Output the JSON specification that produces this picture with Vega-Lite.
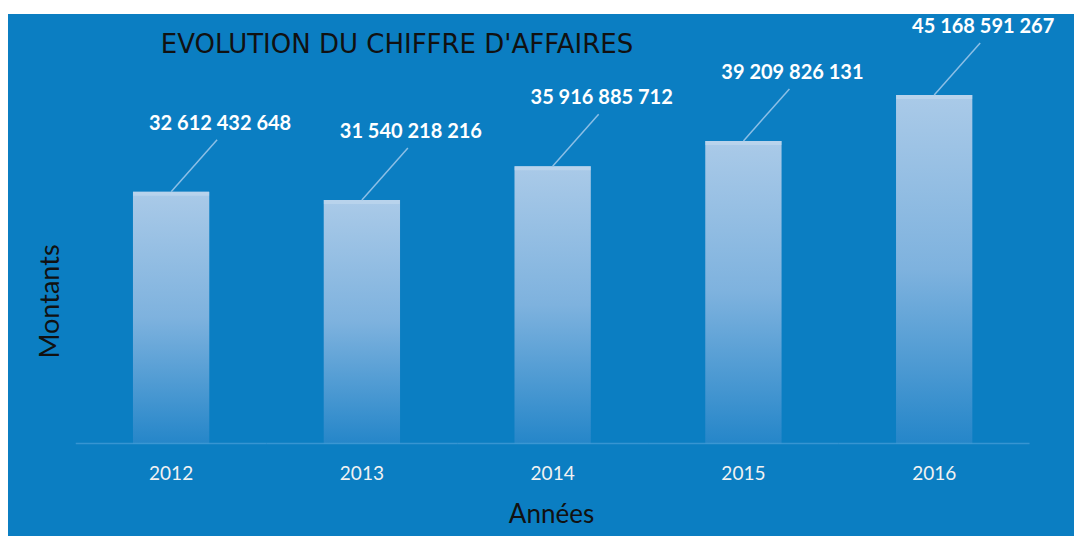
{
  "$schema": "https://vega.github.io/schema/vega-lite/v6.json",
  "width": 1066,
  "height": 522,
  "autosize": {"type": "none"},
  "padding": {"left": 8, "top": 14, "right": 0, "bottom": 0},
  "background": "#ffffff",
  "config": {
    "view": {"fill": "#0b7ec2", "stroke": null},
    "locale": {"number": {"decimal": ",", "thousands": " ", "grouping": [3], "currency": ["", " €"]}}
  },
  "title": {
    "text": "EVOLUTION DU CHIFFRE D'AFFAIRES",
    "font": "DejaVu Sans",
    "fontSize": 26,
    "fontWeight": "normal",
    "color": "#111111",
    "anchor": "middle",
    "dx": -144,
    "offset": -65,
    "baseline": "alphabetic"
  },
  "data": {
    "values": [
      {"year": "2012", "value": 32612432648},
      {"year": "2013", "value": 31540218216},
      {"year": "2014", "value": 35916885712},
      {"year": "2015", "value": 39209826131},
      {"year": "2016", "value": 45168591267}
    ]
  },
  "encoding": {
    "x": {
      "field": "year",
      "type": "ordinal",
      "title": "Années",
      "scale": {"paddingInner": 0.6, "paddingOuter": 0.594, "align": 0.5514},
      "axis": {
        "orient": "bottom",
        "offset": -92.5,
        "domain": false,
        "ticks": false,
        "tickSize": 0,
        "grid": false,
        "labelPadding": 21,
        "labelFont": "Lato",
        "labelFontSize": 19,
        "labelColor": "#f2f2f2",
        "labelAngle": 0,
        "titleFont": "Lato",
        "titleFontSize": 26,
        "titleFontWeight": "normal",
        "titleColor": "#111111",
        "titleX": 543,
        "titleY": 78.5,
        "titleBaseline": "alphabetic"
      }
    },
    "y": {
      "field": "value",
      "type": "quantitative",
      "title": "Montants",
      "scale": {"domain": [-11990000000, 55660000000], "nice": false, "zero": false},
      "axis": {
        "orient": "left",
        "domain": false,
        "ticks": false,
        "labels": false,
        "grid": false,
        "titleFont": "Lato",
        "titleFontSize": 27,
        "titleFontWeight": "normal",
        "titleColor": "#111111",
        "titleAngle": -90,
        "titleX": 50,
        "titleY": 287,
        "titleBaseline": "alphabetic"
      }
    }
  },
  "layer": [
    {
      "mark": {
        "type": "bar",
        "color": {
          "gradient": "linear",
          "x1": 0, "y1": 0, "x2": 0, "y2": 1,
          "stops": [
            {"offset": 0, "color": "#aacae8"},
            {"offset": 0.5, "color": "#7eb2de"},
            {"offset": 1, "color": "#2586c9"}
          ]
        }
      },
      "encoding": {"y2": {"datum": 0}}
    },
    {
      "mark": {"type": "tick", "size": 76, "thickness": 4, "yOffset": 2, "color": "#bfd7ee"}
    },
    {
      "mark": {"type": "tick", "size": 190.75, "thickness": 1.5, "color": "#4a9fd8"},
      "encoding": {"y": {"datum": 0}}
    },
    {
      "mark": {"type": "rule", "color": "#8cbfe6", "strokeWidth": 1.5, "x2Offset": 46, "y2Offset": -52},
      "encoding": {"x2": {"field": "year"}, "y2": {"field": "value"}}
    },
    {
      "mark": {"type": "text", "font": "Lato", "fontSize": 20, "fontWeight": "bold", "color": "#ffffff", "dx": 49, "dy": -68},
      "encoding": {"text": {"field": "value", "type": "quantitative", "format": ",.0f"}}
    }
  ]
}
